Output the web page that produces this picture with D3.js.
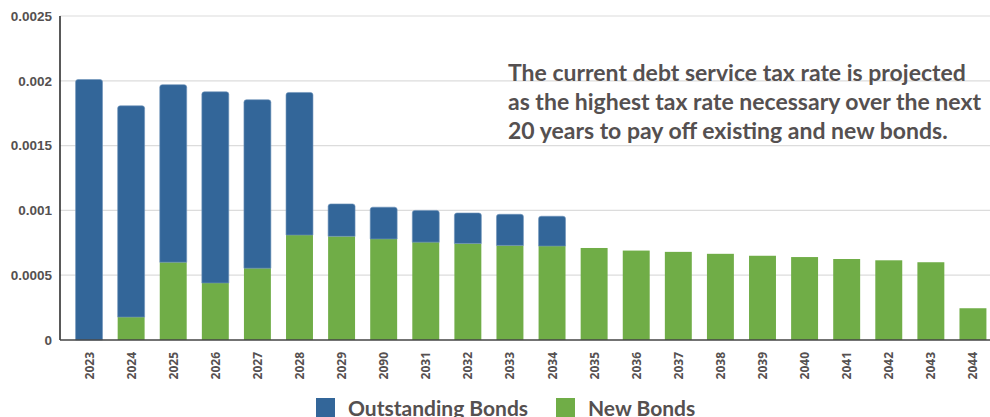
<!DOCTYPE html>
<html>
<head>
<meta charset="utf-8">
<script src="https://cdn.jsdelivr.net/npm/d3@7"></script>
<style>
  body { margin: 0; background: #fff; }
  svg text { fill: #555050; }
</style>
</head>
<body>
<div id="chart"></div>
<script>
var W = 990, H = 417;
var m = {t:16, r:0, b:77, l:60};

// data
var years = ["2023","2024","2025","2026","2027","2028","2029","2090","2031","2032","2033",
             "2034","2035","2036","2037","2038","2039","2040","2041","2042","2043","2044"];
var newBonds = [0, 0.000177, 0.0006, 0.00044, 0.000554, 0.00081, 0.0008, 0.00078, 0.000755, 0.000745, 0.00073,
                0.000725, 0.00071, 0.00069, 0.00068, 0.000665, 0.00065, 0.00064, 0.000625, 0.000615, 0.0006, 0.000245];
var outstanding = [0.00201, 0.00163, 0.00137, 0.001475, 0.0013, 0.0011, 0.00025, 0.000245, 0.000245, 0.000235, 0.00024,
                   0.00023, 0, 0, 0, 0, 0, 0, 0, 0, 0, 0];
var yTicks = [0, 0.0005, 0.001, 0.0015, 0.002, 0.0025];
var note = ["The current debt service tax rate is projected",
            "as the highest tax rate necessary over the next",
            "20 years to pay off existing and new bonds."];

var blue = "#336699", green = "#70ad47";

var svg = d3.select("#chart").append("svg")
  .attr("width", W).attr("height", H);

var x = d3.scaleBand()
  .domain(years)
  .range([68, 994])
  .paddingInner(0.36)
  .paddingOuter(0.18);

var y = d3.scaleLinear()
  .domain([0, 0.0025])
  .range([H - m.b, m.t]);

// gridlines
svg.append("g").selectAll("line")
  .data(yTicks.slice(1))
  .enter().append("line")
  .attr("x1", m.l).attr("x2", W)
  .attr("y1", function(d){ return y(d); })
  .attr("y2", function(d){ return y(d); })
  .style("stroke", "#dcdcdc")
  .style("stroke-width", 1.2);

// y axis
var axisY = d3.axisLeft(y)
  .tickValues(yTicks)
  .tickFormat(function(d){ return d === 0 ? "0" : String(+d.toFixed(4)); })
  .tickSize(0)
  .tickPadding(8);

svg.append("g")
  .attr("transform", "translate(" + m.l + ",0)")
  .call(axisY)
  .attr("font-family", "Liberation Sans, Arial, sans-serif")
  .attr("font-size", "13.5px")
  .attr("font-weight", "bold")
  .call(function(g){ g.select(".domain").remove(); })
  .selectAll("text").style("fill", "#555050");

var rows = years.map(function(yr, i){
  return {year: yr, green: newBonds[i], blue: outstanding[i]};
});

// green (new bonds) at the bottom
svg.append("g").selectAll("rect")
  .data(rows)
  .enter().append("rect")
  .attr("x", function(d){ return x(d.year); })
  .attr("width", x.bandwidth())
  .attr("y", function(d){ return y(d.green); })
  .attr("height", function(d){ return y(0) - y(d.green); })
  .style("fill", green);

// blue (outstanding) stacked on top, rounded top corners
function topRounded(x0, y0, w, h, r) {
  r = Math.min(r, h);
  return "M" + x0 + "," + (y0 + h) +
    "V" + (y0 + r) +
    "Q" + x0 + "," + y0 + " " + (x0 + r) + "," + y0 +
    "H" + (x0 + w - r) +
    "Q" + (x0 + w) + "," + y0 + " " + (x0 + w) + "," + (y0 + r) +
    "V" + (y0 + h) + "Z";
}

svg.append("g").selectAll("path")
  .data(rows.filter(function(d){ return d.blue > 0; }))
  .enter().append("path")
  .attr("d", function(d){
    var top = y(d.green + d.blue), bot = y(d.green);
    return topRounded(x(d.year), top, x.bandwidth(), bot - top, 2.5);
  })
  .style("fill", blue)
  .style("stroke", "#6f93bb")
  .style("stroke-width", 0.6);

// axis lines
svg.append("line")
  .attr("x1", m.l).attr("x2", m.l)
  .attr("y1", m.t).attr("y2", y(0))
  .style("stroke", "#222").style("stroke-width", 1.5);
svg.append("line")
  .attr("x1", m.l).attr("x2", W)
  .attr("y1", y(0)).attr("y2", y(0))
  .style("stroke", "#444").style("stroke-width", 1.5);

// x labels, rotated
svg.append("g").selectAll("text")
  .data(years)
  .enter().append("text")
  .attr("transform", function(d){
    return "translate(" + (x(d) + x.bandwidth()/2 + 4.5) + "," + (y(0) + 12) + ") rotate(-90)";
  })
  .attr("text-anchor", "end")
  .attr("font-family", "Open Sans, sans-serif")
  .attr("font-size", "12px")
  .attr("font-weight", "bold")
  .text(function(d){ return d; });

// annotation
svg.append("text")
  .attr("x", 508)
  .attr("y", 81)
  .attr("font-family", "Lato, sans-serif")
  .attr("font-size", "23px")
  .attr("font-weight", "bold")
  .selectAll("tspan")
  .data(note)
  .enter().append("tspan")
  .attr("x", 508)
  .attr("dy", function(d, i){ return i === 0 ? 0 : 29; })
  .text(function(d){ return d; });

// legend
var legend = [{label: "Outstanding Bonds", color: blue, x: 316},
              {label: "New Bonds", color: green, x: 556}];
var lg = svg.append("g").selectAll("g")
  .data(legend)
  .enter().append("g")
  .attr("transform", function(d){ return "translate(" + d.x + ",398)"; });
lg.append("rect")
  .attr("width", 19).attr("height", 19)
  .style("fill", function(d){ return d.color; });
lg.append("text")
  .attr("x", 32).attr("y", 18)
  .attr("font-family", "Lato, sans-serif")
  .attr("font-size", "21px")
  .attr("font-weight", "bold")
  .text(function(d){ return d.label; });
</script>
</body>
</html>
